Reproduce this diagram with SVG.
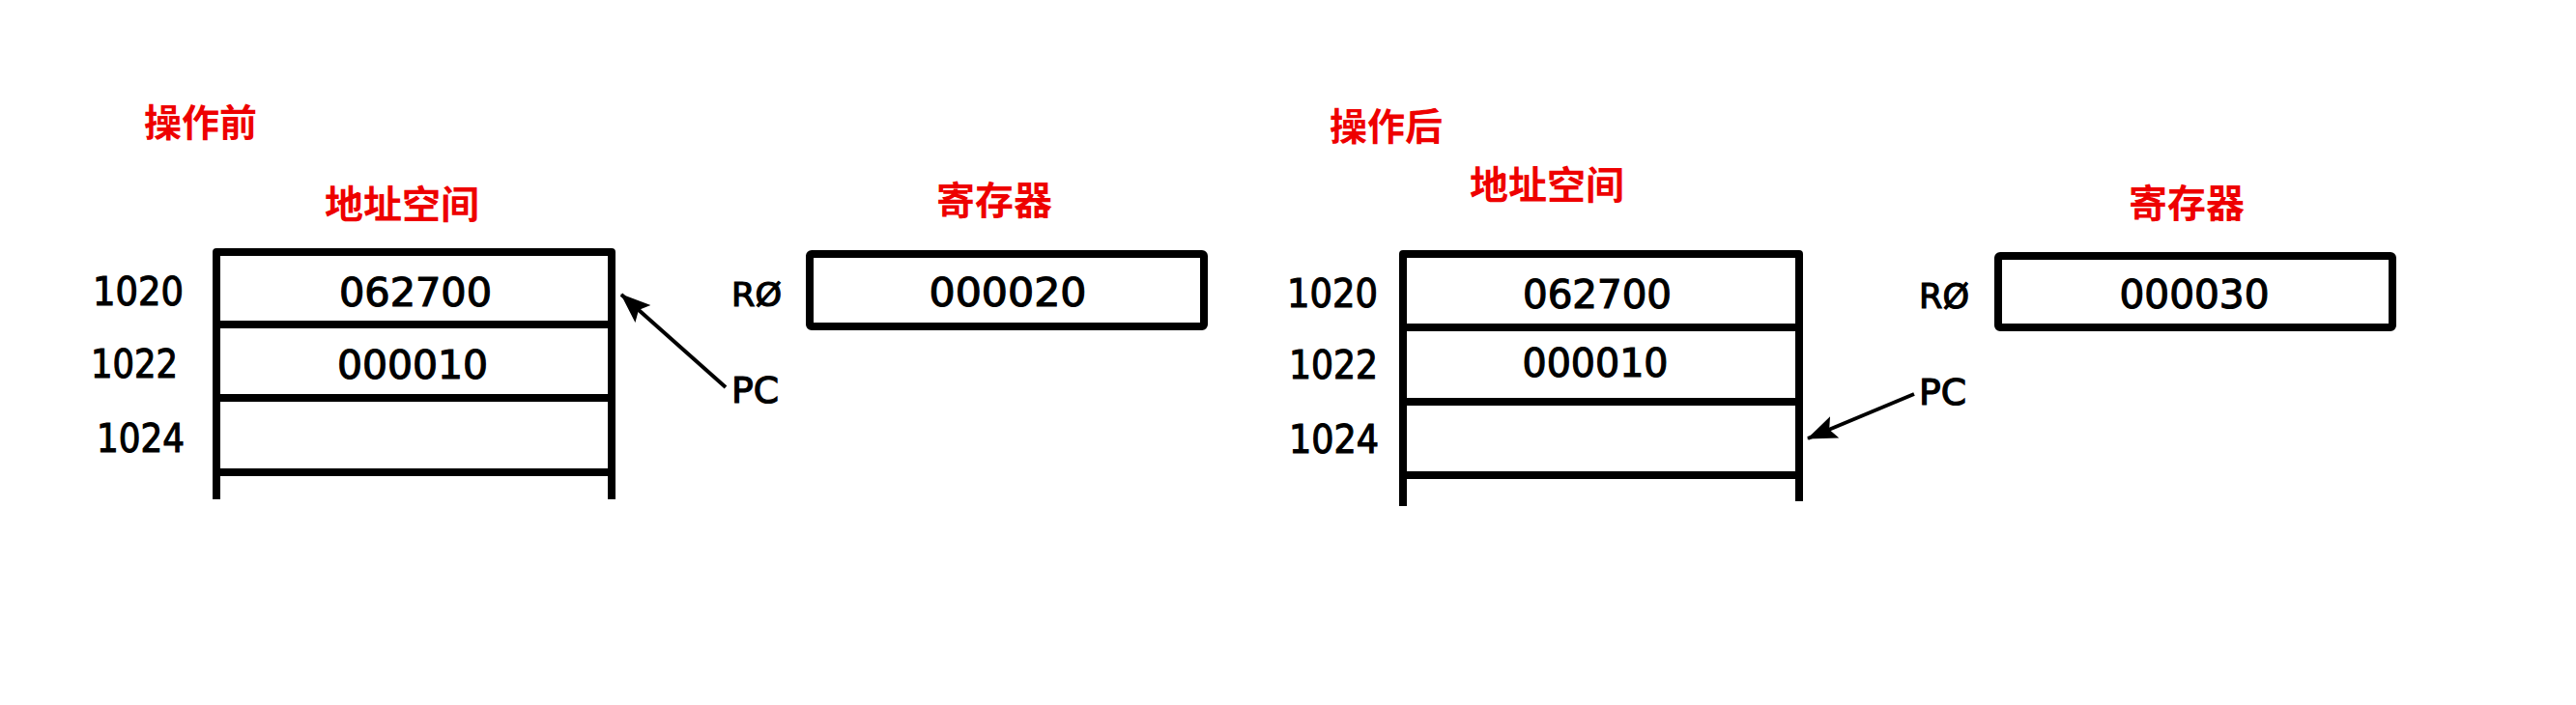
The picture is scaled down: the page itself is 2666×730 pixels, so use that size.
<svg xmlns="http://www.w3.org/2000/svg" width="2666" height="730" viewBox="0 0 2666 730">
<style>
.title{font-family:"Noto Sans CJK SC","Noto Sans CJK TC",sans-serif;font-weight:700;fill:#ee0000;font-size:40px}
.num{font-family:"DejaVu Sans",sans-serif;fill:#000;stroke:#000;stroke-width:1.2;font-size:41px}
.lab{font-family:"DejaVu Sans",sans-serif;fill:#000;stroke:#000;stroke-width:1.2;font-size:36px}
.mid{text-anchor:middle}
.box{fill:none;stroke:#000;stroke-width:8;stroke-linecap:square;stroke-linejoin:round}
.arrow{fill:none;stroke:#000;stroke-width:4;marker-end:url(#ah)}
</style>
<defs>
<marker id="ah" markerUnits="userSpaceOnUse" markerWidth="34" markerHeight="28" refX="30" refY="12" orient="auto">
<path d="M0,0 L31,12 L0,24 L6,12 Z" fill="#000"/>
</marker>
</defs>
<rect width="2666" height="730" fill="#fff"/>

<g id="before">
<text class="title" x="149" y="141" style="font-size:39px">操作前</text>
<text class="title" x="336" y="226">地址空间</text>
<text class="title" x="969" y="222">寄存器</text>
</g>

<g id="mem-before">
<path class="box" d="M224,513 V261 H633 V513 M224,336 H633 M224,412 H633 M224,489 H633"/>
<text class="num" x="96" y="316" textLength="94" lengthAdjust="spacingAndGlyphs">1020</text>
<text class="num" x="94" y="391" textLength="90" lengthAdjust="spacingAndGlyphs">1022</text>
<text class="num" x="100" y="468" textLength="91" lengthAdjust="spacingAndGlyphs">1024</text>
<text class="num mid" x="430" y="317" textLength="158" lengthAdjust="spacingAndGlyphs">062700</text>
<text class="num mid" x="427" y="392" textLength="156" lengthAdjust="spacingAndGlyphs">000010</text>
</g>

<g id="reg-before">
<text class="lab" x="757" y="317" style="font-size:33px" textLength="52" lengthAdjust="spacingAndGlyphs">RØ</text>
<rect class="box" x="838" y="263" width="408" height="75" rx="2"/>
<text class="num mid" x="1043" y="317" textLength="163" lengthAdjust="spacingAndGlyphs">000020</text>
</g>

<g id="pc-before">
<text class="lab" x="757" y="417" style="font-size:37px" textLength="49" lengthAdjust="spacingAndGlyphs">PC</text>
</g>

<g id="after">
<text class="title" x="1376" y="145" style="font-size:39px">操作后</text>
<text class="title" x="1521" y="206">地址空间</text>
<text class="title" x="2203" y="225">寄存器</text>
</g>

<g id="mem-after">
<path class="box" d="M1452,520 V263 H1862 V515 M1452,339 H1862 M1452,416 H1862 M1452,492 H1862"/>
<text class="num" x="1332" y="318" textLength="94" lengthAdjust="spacingAndGlyphs">1020</text>
<text class="num" x="1334" y="392" textLength="92" lengthAdjust="spacingAndGlyphs">1022</text>
<text class="num" x="1334" y="469" textLength="93" lengthAdjust="spacingAndGlyphs">1024</text>
<text class="num mid" x="1653" y="319" textLength="154" lengthAdjust="spacingAndGlyphs">062700</text>
<text class="num mid" x="1651" y="390" textLength="151" lengthAdjust="spacingAndGlyphs">000010</text>
</g>

<g id="reg-after">
<text class="lab" x="1986" y="319" style="font-size:35px" textLength="52" lengthAdjust="spacingAndGlyphs">RØ</text>
<rect class="box" x="2068" y="265" width="408" height="74" rx="2"/>
<text class="num mid" x="2271" y="319" textLength="155" lengthAdjust="spacingAndGlyphs">000030</text>
</g>

<g id="pc-after">
<text class="lab" x="1986" y="419" style="font-size:37px" textLength="49" lengthAdjust="spacingAndGlyphs">PC</text>
</g>

<g id="connectors">
<line class="arrow" x1="751" y1="401" x2="643" y2="305"/>
<line class="arrow" x1="1981" y1="408" x2="1871" y2="454"/>
</g>
</svg>
